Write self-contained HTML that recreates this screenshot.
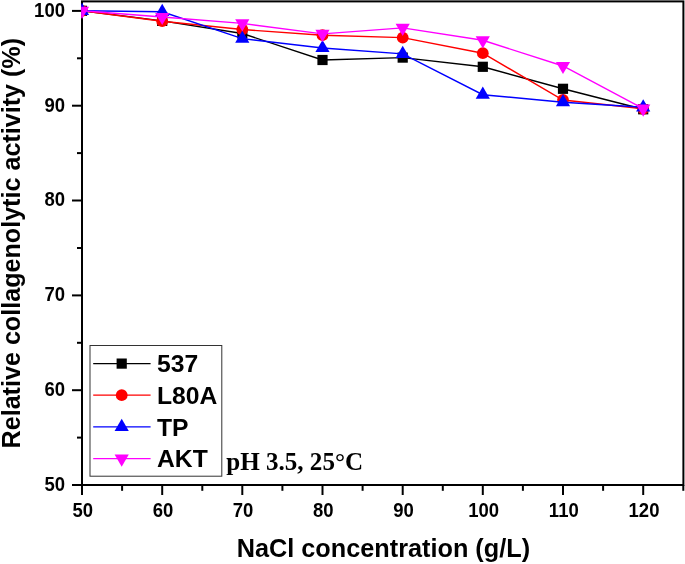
<!DOCTYPE html>
<html><head><meta charset="utf-8"><title>chart</title>
<style>html,body{margin:0;padding:0;background:#fff}body{width:685px;height:564px;overflow:hidden;font-family:"Liberation Sans",sans-serif}</style>
</head><body>
<svg width="685" height="564" viewBox="0 0 685 564" style="display:block;will-change:transform">
<rect width="685" height="564" fill="#fff"/>
<defs><clipPath id="c"><rect x="81.2" y="1" width="602" height="484.6"/></clipPath></defs>
<g stroke="#000" stroke-width="2" fill="none" stroke-linecap="butt">
<rect x="82.0" y="1.4" width="601.4" height="483.6"/>
<line x1="72.0" y1="485.0" x2="82.0" y2="485.0"/>
<line x1="77.0" y1="437.6" x2="82.0" y2="437.6"/>
<line x1="72.0" y1="390.2" x2="82.0" y2="390.2"/>
<line x1="77.0" y1="342.8" x2="82.0" y2="342.8"/>
<line x1="72.0" y1="295.4" x2="82.0" y2="295.4"/>
<line x1="77.0" y1="248.0" x2="82.0" y2="248.0"/>
<line x1="72.0" y1="200.5" x2="82.0" y2="200.5"/>
<line x1="77.0" y1="153.1" x2="82.0" y2="153.1"/>
<line x1="72.0" y1="105.7" x2="82.0" y2="105.7"/>
<line x1="77.0" y1="58.3" x2="82.0" y2="58.3"/>
<line x1="72.0" y1="10.9" x2="82.0" y2="10.9"/>
<line x1="82.0" y1="485.0" x2="82.0" y2="495.0"/>
<line x1="122.1" y1="485.0" x2="122.1" y2="490.8"/>
<line x1="162.2" y1="485.0" x2="162.2" y2="495.0"/>
<line x1="202.3" y1="485.0" x2="202.3" y2="490.8"/>
<line x1="242.3" y1="485.0" x2="242.3" y2="495.0"/>
<line x1="282.4" y1="485.0" x2="282.4" y2="490.8"/>
<line x1="322.5" y1="485.0" x2="322.5" y2="495.0"/>
<line x1="362.6" y1="485.0" x2="362.6" y2="490.8"/>
<line x1="402.7" y1="485.0" x2="402.7" y2="495.0"/>
<line x1="442.8" y1="485.0" x2="442.8" y2="490.8"/>
<line x1="482.8" y1="485.0" x2="482.8" y2="495.0"/>
<line x1="522.9" y1="485.0" x2="522.9" y2="490.8"/>
<line x1="563.0" y1="485.0" x2="563.0" y2="495.0"/>
<line x1="603.1" y1="485.0" x2="603.1" y2="490.8"/>
<line x1="643.2" y1="485.0" x2="643.2" y2="495.0"/>
<line x1="683.3" y1="485.0" x2="683.3" y2="490.8"/>
</g>
<g clip-path="url(#c)">
<polyline points="82.0,10.8 162.2,20.9 242.3,33.5 322.5,60.0 402.7,57.6 482.8,66.8 563.0,88.8 643.2,109.3" fill="none" stroke="#000" stroke-width="1.4"/>
<rect x="76.9" y="5.7" width="10.2" height="10.2" fill="#000"/>
<rect x="157.1" y="15.8" width="10.2" height="10.2" fill="#000"/>
<rect x="237.2" y="28.4" width="10.2" height="10.2" fill="#000"/>
<rect x="317.4" y="54.9" width="10.2" height="10.2" fill="#000"/>
<rect x="397.6" y="52.5" width="10.2" height="10.2" fill="#000"/>
<rect x="477.7" y="61.7" width="10.2" height="10.2" fill="#000"/>
<rect x="557.9" y="83.7" width="10.2" height="10.2" fill="#000"/>
<rect x="638.1" y="104.2" width="10.2" height="10.2" fill="#000"/>
<polyline points="82.0,10.8 162.2,21.2 242.3,29.5 322.5,35.2 402.7,37.6 482.8,53.2 563.0,100.0 643.2,108.8" fill="none" stroke="#f00" stroke-width="1.4"/>
<circle cx="82.0" cy="10.8" r="5.9" fill="#f00"/>
<circle cx="162.2" cy="21.2" r="5.9" fill="#f00"/>
<circle cx="242.3" cy="29.5" r="5.9" fill="#f00"/>
<circle cx="322.5" cy="35.2" r="5.9" fill="#f00"/>
<circle cx="402.7" cy="37.6" r="5.9" fill="#f00"/>
<circle cx="482.8" cy="53.2" r="5.9" fill="#f00"/>
<circle cx="563.0" cy="100.0" r="5.9" fill="#f00"/>
<circle cx="643.2" cy="108.8" r="5.9" fill="#f00"/>
<polyline points="82.0,10.8 162.2,11.8 242.3,38.6 322.5,48.0 402.7,53.9 482.8,94.7 563.0,102.2 643.2,107.3" fill="none" stroke="#00f" stroke-width="1.4"/>
<polygon points="74.9,14.9 89.1,14.9 82.0,2.7" fill="#00f"/>
<polygon points="155.1,15.9 169.3,15.9 162.2,3.7" fill="#00f"/>
<polygon points="235.2,42.7 249.4,42.7 242.3,30.5" fill="#00f"/>
<polygon points="315.4,52.1 329.6,52.1 322.5,39.9" fill="#00f"/>
<polygon points="395.6,58.0 409.8,58.0 402.7,45.8" fill="#00f"/>
<polygon points="475.7,98.8 489.9,98.8 482.8,86.6" fill="#00f"/>
<polygon points="555.9,106.3 570.1,106.3 563.0,94.1" fill="#00f"/>
<polygon points="636.1,111.4 650.3,111.4 643.2,99.2" fill="#00f"/>
<polyline points="82.0,10.8 162.2,17.0 242.3,23.4 322.5,33.9 402.7,27.9 482.8,40.3 563.0,66.0 643.2,108.7" fill="none" stroke="#f0f" stroke-width="1.4"/>
<polygon points="74.9,6.7 89.1,6.7 82.0,18.9" fill="#f0f"/>
<polygon points="155.1,12.9 169.3,12.9 162.2,25.1" fill="#f0f"/>
<polygon points="235.2,19.3 249.4,19.3 242.3,31.5" fill="#f0f"/>
<polygon points="315.4,29.8 329.6,29.8 322.5,42.0" fill="#f0f"/>
<polygon points="395.6,23.8 409.8,23.8 402.7,36.0" fill="#f0f"/>
<polygon points="475.7,36.2 489.9,36.2 482.8,48.4" fill="#f0f"/>
<polygon points="555.9,61.9 570.1,61.9 563.0,74.1" fill="#f0f"/>
<polygon points="636.1,104.6 650.3,104.6 643.2,116.8" fill="#f0f"/>
</g>
<g font-family="Liberation Sans, sans-serif" font-weight="bold" font-size="19.5px" fill="#000">
<text transform="translate(65.0 490.9) scale(0.95 1)" text-anchor="end">50</text>
<text transform="translate(65.0 396.1) scale(0.95 1)" text-anchor="end">60</text>
<text transform="translate(65.0 301.3) scale(0.95 1)" text-anchor="end">70</text>
<text transform="translate(65.0 206.4) scale(0.95 1)" text-anchor="end">80</text>
<text transform="translate(65.0 111.6) scale(0.95 1)" text-anchor="end">90</text>
<text transform="translate(65.0 16.8) scale(0.95 1)" text-anchor="end">100</text>
<text transform="translate(82.8 517.2) scale(0.95 1)" text-anchor="middle">50</text>
<text transform="translate(163.0 517.2) scale(0.95 1)" text-anchor="middle">60</text>
<text transform="translate(243.1 517.2) scale(0.95 1)" text-anchor="middle">70</text>
<text transform="translate(323.3 517.2) scale(0.95 1)" text-anchor="middle">80</text>
<text transform="translate(403.5 517.2) scale(0.95 1)" text-anchor="middle">90</text>
<text transform="translate(483.6 517.2) scale(0.95 1)" text-anchor="middle">100</text>
<text transform="translate(563.8 517.2) scale(0.95 1)" text-anchor="middle">110</text>
<text transform="translate(644.0 517.2) scale(0.95 1)" text-anchor="middle">120</text>
</g>
<g font-family="Liberation Sans, sans-serif" font-weight="bold" font-size="25px" fill="#000">
<text x="383.4" y="556.6" text-anchor="middle" textLength="293.4" lengthAdjust="spacingAndGlyphs">NaCl concentration (g/L)</text>
<text transform="translate(19.9 243.2) rotate(-90)" text-anchor="middle" textLength="410.5" lengthAdjust="spacingAndGlyphs">Relative collagenolytic activity (%)</text>
</g>
<rect x="90" y="345.5" width="131.8" height="130.7" fill="#fff" stroke="#333" stroke-width="1"/>
<line x1="93.2" y1="363.6" x2="150.6" y2="363.6" stroke="#000" stroke-width="1.2"/>
<rect x="116.6" y="358.5" width="10.2" height="10.2" fill="#000"/>
<text x="157" y="372.4" font-family="Liberation Sans, sans-serif" font-weight="bold" font-size="24.7px" fill="#000">537</text>
<line x1="93.2" y1="395.2" x2="150.6" y2="395.2" stroke="#f00" stroke-width="1.2"/>
<circle cx="121.7" cy="395.2" r="5.9" fill="#f00"/>
<text x="157" y="404.0" font-family="Liberation Sans, sans-serif" font-weight="bold" font-size="24.7px" fill="#000">L80A</text>
<line x1="93.2" y1="426.9" x2="150.6" y2="426.9" stroke="#00f" stroke-width="1.2"/>
<polygon points="114.6,431.0 128.8,431.0 121.7,418.8" fill="#00f"/>
<text x="157" y="435.7" font-family="Liberation Sans, sans-serif" font-weight="bold" font-size="24.7px" fill="#000">TP</text>
<line x1="93.2" y1="458.6" x2="150.6" y2="458.6" stroke="#f0f" stroke-width="1.2"/>
<polygon points="114.6,454.5 128.8,454.5 121.7,466.7" fill="#f0f"/>
<text x="157" y="467.4" font-family="Liberation Sans, sans-serif" font-weight="bold" font-size="24.7px" fill="#000">AKT</text>
<text x="226.2" y="469.6" font-family="Liberation Serif, serif" font-weight="bold" font-size="25.1px" fill="#000">pH 3.5, 25°C</text>
</svg>
</body></html>
